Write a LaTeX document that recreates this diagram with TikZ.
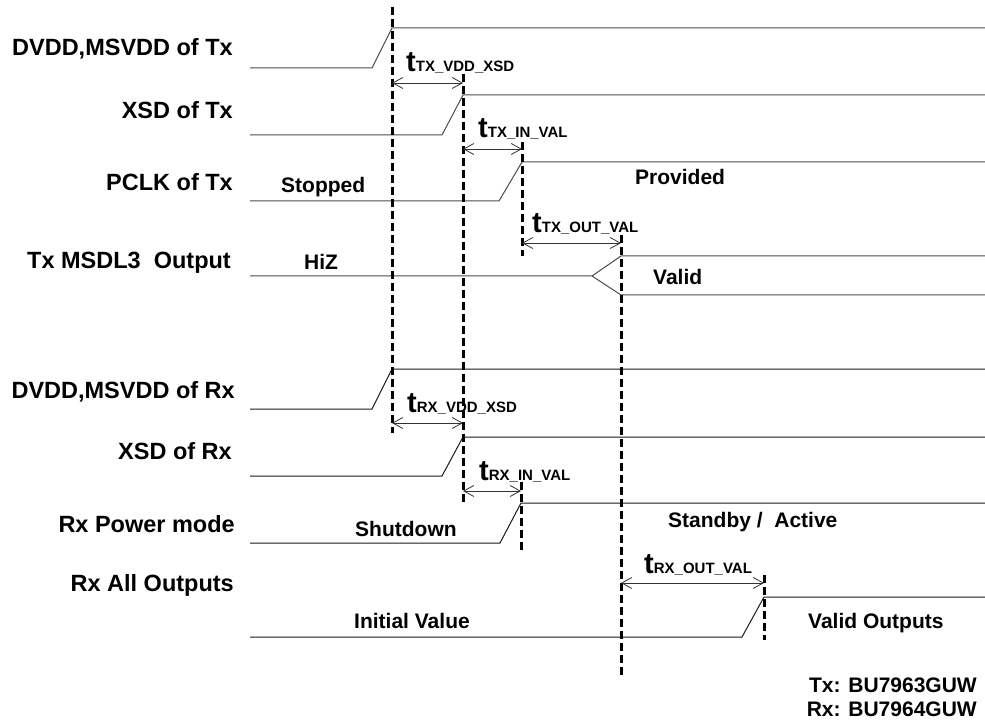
\documentclass[tikz,border=0pt]{standalone}
\usepackage{fontspec}
\setmainfont{Liberation Sans}
\usetikzlibrary{arrows.meta}
\newcommand\tsub[1]{{\fontsize{29}{30}\selectfont\bfseries t}{\fontsize{15}{16}\selectfont\bfseries #1}}
\begin{document}
\begin{tikzpicture}[x=1pt,y=-1pt,
  sigtx/.style={line width=1pt,black!70},
  sigrx/.style={line width=1pt,black!90},
  vline/.style={line width=3pt,dash pattern=on 8pt off 4pt},
  dim/.style={line width=0.8pt,black!80,{Straight Barb[length=10pt,width=11pt]}-{Straight Barb[length=10pt,width=11pt]}},
  lbl/.style={anchor=base east,inner sep=0,font=\fontsize{23.5}{26}\selectfont\bfseries},
  txt/.style={anchor=base west,inner sep=0,font=\fontsize{21}{24}\selectfont\bfseries},
  tm/.style={anchor=base west,inner sep=0}
]
\useasboundingbox (0,0) rectangle (985,727);

% ---- left labels
\node[lbl] (l1) at (233,56) {DVDD,MSVDD of Tx};
\node[lbl] (l2) at (233,119) {XSD of Tx};
\node[lbl] (l3) at (233,191) {PCLK of Tx};
\node[lbl] (l4) at (231,269) {Tx MSDL3\ \ Output};
\node[lbl] (l5) at (235,398) {DVDD,MSVDD of Rx};
\node[lbl] (l6) at (232,459) {XSD of Rx};
\node[lbl] (l7) at (235,532) {Rx Power mode};
\node[lbl] (l8) at (234,591) {Rx All Outputs};

% ---- Tx waveforms
\draw[sigtx] (250,68) -- (372,68) -- (392,28) -- (985,28);
\draw[sigtx] (250,135) -- (442,135) -- (463,95) -- (985,95);
\draw[sigtx] (250,201) -- (499,201) -- (522,162) -- (985,162);
\draw[sigtx] (250,276) -- (592,276) -- (621,256) -- (985,256);
\draw[sigtx] (592,276) -- (621,295) -- (985,295);

% ---- Rx waveforms
\draw[sigrx] (250,409) -- (372,409) -- (392,369) -- (985,369);
\draw[sigrx] (250,476) -- (442,476) -- (463,437) -- (985,437);
\draw[sigrx] (250,543) -- (500,543) -- (521,503) -- (985,503);
\draw[sigrx] (250,637) -- (742,637) -- (764,597) -- (985,597);

% ---- dashed timing lines
\coordinate (d1t) at (392,7);   \coordinate (d1b) at (392,433);
\coordinate (d2t) at (463,74);  \coordinate (d2b) at (463,503);
\coordinate (d3t) at (522,142); \coordinate (d3b) at (522,256);
\coordinate (d4t) at (621,235); \coordinate (d4b) at (621,678);
\coordinate (d5t) at (521,482); \coordinate (d5b) at (521,550);
\coordinate (d6t) at (764,575); \coordinate (d6b) at (764,640);
\foreach \n in {1,...,6} \draw[vline] (d\n t) -- (d\n b);

% ---- dimension arrows
\coordinate (a1l) at (392,83);  \coordinate (a1r) at (463,83);
\coordinate (a2l) at (463,149); \coordinate (a2r) at (522,149);
\coordinate (a3l) at (522,243); \coordinate (a3r) at (621,243);
\coordinate (a4l) at (392,423); \coordinate (a4r) at (463,423);
\coordinate (a5l) at (463,491); \coordinate (a5r) at (521,491);
\coordinate (a6l) at (621,583); \coordinate (a6r) at (764,583);
\foreach \n in {1,...,6} \draw[dim] (a\n l) -- (a\n r);

% ---- timing labels
\node[tm] (t1) at (406,72) {\tsub{TX\_VDD\_XSD}};
\node[tm] (t2) at (478,138) {\tsub{TX\_IN\_VAL}};
\node[tm] (t3) at (532,233) {\tsub{TX\_OUT\_VAL}};
\node[tm] (t4) at (407,412) {\tsub{RX\_VDD\_XSD}};
\node[tm] (t5) at (479,480) {\tsub{RX\_IN\_VAL}};
\node[tm] (t6) at (644,573) {\tsub{RX\_OUT\_VAL}};

% ---- state texts
\node[txt] (s1) at (281,193) {Stopped};
\node[txt] (s2) at (635,185) {Provided};
\node[txt] (s3) at (304,270) {HiZ};
\node[txt] (s4) at (653,284) {Valid};
\node[txt] (s5) at (355,536) {Shutdown};
\node[txt] (s6) at (668,527) {Standby /\ \ Active};
\node[txt] (s7) at (354,628) {Initial Value};
\node[txt] (s8) at (808,628) {Valid Outputs};
\node[txt,anchor=base east] (p1) at (977,692) {Tx: BU7963GUW};
\node[txt,anchor=base east] (p2) at (977,716) {Rx: BU7964GUW};
\end{tikzpicture}
\end{document}
